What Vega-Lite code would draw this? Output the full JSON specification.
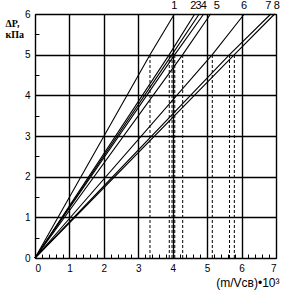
{
  "$schema": "https://vega.github.io/schema/vega-lite/v6.json",
  "width": 241,
  "height": 244,
  "autosize": "none",
  "padding": {"left": 35, "top": 14, "right": 15, "bottom": 44},
  "background": "white",
  "config": {
    "view": {"stroke": "black", "strokeWidth": 1},
    "font": "Liberation Sans",
    "axis": {
      "domainColor": "black",
      "tickColor": "black",
      "labelColor": "black",
      "titleColor": "black",
      "labelFontSize": 10,
      "labelFont": "Liberation Sans",
      "gridWidth": 1.4,
      "titleFontWeight": "normal"
    }
  },
  "resolve": {"axis": {"x": "independent", "y": "independent"}},
  "datasets": {
    "lines": [
      {"line": "1", "x": 0, "y": 0}, {"line": "1", "x": 3.34, "y": 5}, {"line": "1", "x": 4.05, "y": 6},
      {"line": "2", "x": 0, "y": 0}, {"line": "2", "x": 3.9, "y": 5}, {"line": "2", "x": 4.64, "y": 6},
      {"line": "3", "x": 0, "y": 0}, {"line": "3", "x": 3.98, "y": 5}, {"line": "3", "x": 4.77, "y": 6},
      {"line": "4", "x": 0, "y": 0}, {"line": "4", "x": 4.06, "y": 5}, {"line": "4", "x": 4.9, "y": 6},
      {"line": "5", "x": 0, "y": 0}, {"line": "5", "x": 4.29, "y": 5}, {"line": "5", "x": 5.1, "y": 6},
      {"line": "6", "x": 0, "y": 0}, {"line": "6", "x": 5.15, "y": 5}, {"line": "6", "x": 6.08, "y": 6},
      {"line": "7", "x": 0, "y": 0}, {"line": "7", "x": 5.65, "y": 5}, {"line": "7", "x": 6.85, "y": 6},
      {"line": "8", "x": 0, "y": 0}, {"line": "8", "x": 5.79, "y": 5}, {"line": "8", "x": 6.96, "y": 6}
    ],
    "dashes": [
      {"x": 3.34, "y0": 0, "y1": 5},
      {"x": 3.9, "y0": 0, "y1": 5},
      {"x": 3.98, "y0": 0, "y1": 5},
      {"x": 4.06, "y0": 0, "y1": 5},
      {"x": 4.29, "y0": 0, "y1": 5},
      {"x": 5.15, "y0": 0, "y1": 5},
      {"x": 5.65, "y0": 0, "y1": 5},
      {"x": 5.79, "y0": 0, "y1": 5}
    ],
    "labels": [
      {"label": "1", "x": 4.05, "y": 6},
      {"label": "2", "x": 4.6, "y": 6},
      {"label": "3", "x": 4.75, "y": 6},
      {"label": "4", "x": 4.9, "y": 6},
      {"label": "5", "x": 5.28, "y": 6},
      {"label": "6", "x": 6.07, "y": 6},
      {"label": "7", "x": 6.78, "y": 6},
      {"label": "8", "x": 7.02, "y": 6}
    ]
  },
  "layer": [
    {
      "data": {"name": "dashes"},
      "mark": {"type": "rule", "color": "black", "strokeWidth": 1, "strokeDash": [3, 2]},
      "encoding": {
        "x": {
          "field": "x", "type": "quantitative",
          "scale": {"domain": [0, 7], "nice": false, "zero": false},
          "axis": {
            "orient": "bottom",
            "tickCount": 7,
            "ticks": false,
            "grid": true,
            "gridColor": "black",
            "domain": false,
            "labelPadding": 5,
            "title": "(m/Vсв)•10³",
            "titleFontSize": 12,
            "titleAlign": "right",
            "titleBaseline": "middle",
            "titleX": 244,
            "titleY": 24
          }
        },
        "y": {
          "field": "y0", "type": "quantitative",
          "scale": {"domain": [0, 6], "nice": false, "zero": false},
          "axis": {
            "orient": "left",
            "tickCount": 6,
            "ticks": false,
            "grid": true,
            "gridColor": "black",
            "domain": false,
            "labelPadding": 5,
            "title": ["ΔP,", "кПа"],
            "titleFont": "Liberation Serif",
            "titleFontSize": 10,
            "titleFontWeight": "bold",
            "titleLineHeight": 11,
            "titleAngle": 0,
            "titleAlign": "left",
            "titleBaseline": "top",
            "titleX": -30,
            "titleY": 4
          }
        },
        "y2": {"field": "y1"}
      }
    },
    {
      "data": {"name": "lines"},
      "mark": {"type": "line", "color": "black", "strokeWidth": 1.1},
      "encoding": {
        "x": {"field": "x", "type": "quantitative",
          "axis": {"orient": "bottom", "tickCount": 35, "labels": false, "grid": false, "domain": false, "title": null, "tickSize": 4, "tickWidth": 1, "offset": -4, "tickColor": "black"}},
        "y": {"field": "y", "type": "quantitative",
          "axis": {"orient": "left", "tickCount": 12, "labels": false, "grid": false, "domain": false, "title": null, "tickSize": 4, "tickWidth": 1, "offset": -4, "tickColor": "black"}},
        "detail": {"field": "line"},
        "strokeWidth": {
          "condition": {"test": "datum.line === '2' || datum.line === '3' || datum.line === '4'", "value": 1.5},
          "value": 1.1
        }
      }
    },
    {
      "data": {"name": "labels"},
      "mark": {"type": "text", "color": "black", "fontSize": 11, "dy": -8, "baseline": "middle", "align": "center", "font": "Liberation Sans"},
      "encoding": {
        "x": {"field": "x", "type": "quantitative", "axis": null},
        "y": {"field": "y", "type": "quantitative", "axis": null},
        "text": {"field": "label"}
      }
    }
  ]
}
